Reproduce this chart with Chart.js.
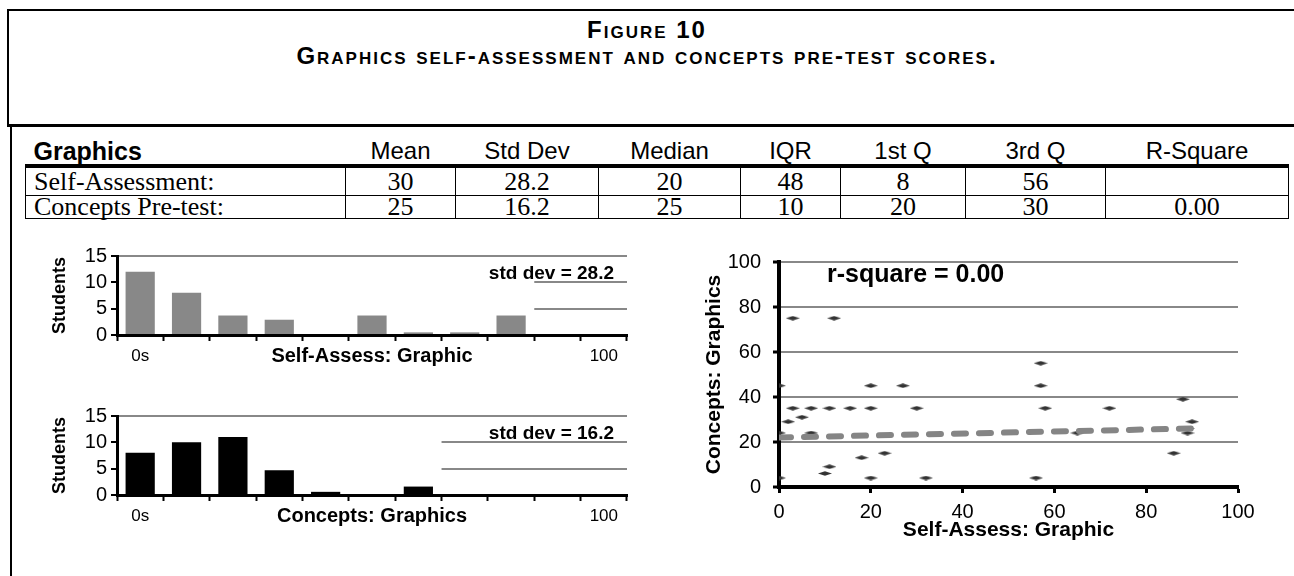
<!DOCTYPE html>
<html>
<head>
<meta charset="utf-8">
<script src="https://cdn.jsdelivr.net/npm/chart.js@4.4.0/dist/chart.umd.min.js"></script>
<style>
  body { margin: 0; width: 1294px; height: 576px; background: #fff; position: relative; overflow: hidden; font-family: "Liberation Sans", Arial, sans-serif; }
  #box { position: absolute; left: 7px; top: 9px; width: 1310px; height: 113px; border: 2px solid #000; border-bottom-width: 3px; border-right: none; }
  #leftline { position: absolute; left: 10px; top: 126px; width: 2px; height: 460px; background: #000; }
  .ttl { position: absolute; left: 0; width: 1294px; text-align: center; font-weight: bold; font-variant: small-caps; font-size: 24px; letter-spacing: 2px; line-height: 26px; }
  #stats { position: absolute; left: 25px; top: 138px; border-collapse: collapse; table-layout: fixed; width: 1263px; }
  #stats th { font: 24px "Liberation Sans", Arial, sans-serif; height: 26px; padding: 0; text-align: center; vertical-align: middle; line-height: 24px; }
  #stats th:first-child { text-align: left; font-weight: bold; font-size: 25px; padding-left: 8px; }
  #stats td { border: 1px solid #000; font: 26px "Liberation Serif", "Times New Roman", serif; padding: 0; text-align: center; line-height: 22px; height: 22px; }
  #stats tbody tr:first-child td { border-top: 4px solid #000; height: 27px; }
  #stats td:first-child { text-align: left; padding-left: 8px; }
  canvas { position: absolute; }
</style>
</head>
<body>
<div id="box"></div>
<div id="leftline"></div>
<div class="ttl" style="top:17px">Figure 10</div>
<div class="ttl" style="top:43px">Graphics self-assessment and concepts pre-test scores.</div>
<table id="stats">
  <colgroup>
    <col style="width:320px"><col style="width:110px"><col style="width:143px"><col style="width:142px">
    <col style="width:100px"><col style="width:125px"><col style="width:140px"><col style="width:183px">
  </colgroup>
  <thead><tr id="head"></tr></thead>
  <tbody id="rows"></tbody>
</table>
<canvas id="histSelf" width="600" height="137" style="left:40px;top:240px"></canvas>
<canvas id="histConcepts" width="600" height="137" style="left:40px;top:400px"></canvas>
<canvas id="scatter" width="600" height="320" style="left:680px;top:238px"></canvas>
<script>
// table
const statColumns = ['Mean', 'Std Dev', 'Median', 'IQR', '1st Q', '3rd Q', 'R-Square'];
const rowNames = ['Self-Assessment:', 'Concepts Pre-test:'];
const selfStats = ['30', '28.2', '20', '48', '8', '56', ''];
const conceptStats = ['25', '16.2', '25', '10', '20', '30', '0.00'];

// histograms: 10-point bins, first one labelled 0s, last one 100
const binLabels = ['0s', '', '', '', '', '', '', '', '', '', '100'];
const selfCounts = [12, 8, 3.7, 2.9, 0, 3.7, 0.5, 0.5, 3.7, 0, 0];
const conceptCounts = [8, 10, 11, 4.7, 0.6, 0, 1.6, 0, 0, 0, 0];
const countTicks = [0, 5, 10, 15];

// scatter: self-assessment vs concepts pre-test
const selfScores = [3, 12, 0, 20, 27, 3, 7, 11, 15.5, 20, 30, 5, 2, 0, 7, 57, 57, 58, 72, 88, 90, 89, 65, 89, 18, 23, 11, 10, 0, 20, 32, 56, 86];
const conceptScores = [75, 75, 45, 45, 45, 35, 35, 35, 35, 35, 35, 31, 29, 24, 24, 55, 45, 35, 35, 39, 29, 26, 24, 24, 13, 15, 9, 6, 4, 4, 4, 4, 15];
const trendX = [0, 90];
const trendY = [22, 26];
const scoreTicks = [0, 20, 40, 60, 80, 100];

const FONT = '"Liberation Sans", Arial, sans-serif';

function buildTable() {
    const head = document.getElementById('head');
    head.innerHTML = '<th>Graphics</th>' + statColumns.map(c => `<th>${c}</th>`).join('');
    const body = document.getElementById('rows');
    [selfStats, conceptStats].forEach((vals, i) => {
        const tr = document.createElement('tr');
        tr.innerHTML = `<td>${rowNames[i]}</td>` + vals.map(v => `<td>${v}</td>`).join('');
        body.appendChild(tr);
    });
}

// grid lines at 5 and 10 only show to the right of the last filled bin
const partialGrid = {
    id: 'partialGrid',
    beforeDatasetsDraw(chart) {
        const {ctx, chartArea, scales: {x, y}} = chart;
        const counts = chart.data.datasets[0].data;
        let last = 0;
        counts.forEach((v, i) => { if (v > 0) last = i; });
        const x0 = x.getPixelForValue(last) + x.width / counts.length / 2;
        ctx.save();
        ctx.strokeStyle = '#888';
        ctx.lineWidth = 2;
        countTicks.filter(v => v > 0 && v < 15).forEach(v => {
            const py = Math.round(y.getPixelForValue(v));
            ctx.beginPath();
            ctx.moveTo(x0, py);
            ctx.lineTo(chartArea.right, py);
            ctx.stroke();
        });
        ctx.restore();
    }
};

const note = {
    id: 'note',
    afterDraw(chart, args, opts) {
        const {ctx, chartArea} = chart;
        ctx.save();
        ctx.font = `bold ${opts.size}px ${FONT}`;
        ctx.fillStyle = '#000';
        ctx.textAlign = opts.align;
        ctx.textBaseline = 'middle';
        const px = opts.align === 'right' ? chartArea.right - opts.dx : chartArea.left + opts.dx;
        ctx.fillText(opts.text, px, chartArea.top + opts.dy);
        ctx.restore();
    }
};

function renderHist(id, counts, color, xTitle, noteText) {
    new Chart(document.getElementById(id), {
        type: 'bar',
        data: {
            labels: binLabels,
            datasets: [{data: counts, backgroundColor: color, barPercentage: 0.63, categoryPercentage: 1}]
        },
        options: {
            responsive: false,
            animation: false,
            layout: {padding: {top: 15, right: 13, left: 0, bottom: 0}},
            plugins: {
                legend: {display: false},
                tooltip: {enabled: false},
                note: {text: noteText, size: 19, align: 'right', dx: 13, dy: 18}
            },
            scales: {
                x: {
                    grid: {offset: true, drawOnChartArea: false, tickLength: 6, tickColor: '#000', tickWidth: 2},
                    border: {color: '#000', width: 3},
                    ticks: {color: '#000', font: {size: 17, family: FONT}, padding: 5, maxRotation: 0, autoSkip: false},
                    title: {display: true, text: xTitle, color: '#000', font: {size: 20, weight: 'bold', family: FONT}, padding: {top: 0, bottom: 9}},
                    afterFit: s => { s.height = 42; }
                },
                y: {
                    min: 0,
                    max: 15,
                    afterBuildTicks: s => { s.ticks = countTicks.map(v => ({value: v})); },
                    grid: {
                        color: c => (c.tick && c.tick.value === 15) ? '#888' : 'rgba(0,0,0,0)',
                        lineWidth: 2, tickLength: 6, tickColor: '#000', tickWidth: 2
                    },
                    border: {color: '#000', width: 3},
                    ticks: {color: '#000', font: {size: 20, family: FONT}, padding: 4, autoSkip: false},
                    title: {display: true, text: 'Students', color: '#000', font: {size: 18, weight: 'bold', family: FONT}, padding: {top: 9, bottom: 0}},
                    afterFit: s => { s.width = 77; }
                }
            }
        },
        plugins: [partialGrid, note]
    });
}

function renderScatter() {
    const mark = document.createElement('canvas');
    mark.width = 14;
    mark.height = 5;
    const m = mark.getContext('2d');
    m.fillStyle = '#333';
    m.beginPath();
    m.moveTo(0, 2.5); m.lineTo(7, 0.2); m.lineTo(14, 2.5); m.lineTo(7, 4.8);
    m.closePath();
    m.fill();

    new Chart(document.getElementById('scatter'), {
        type: 'scatter',
        data: {
            datasets: [
                {
                    type: 'line',
                    data: trendX.map((x, i) => ({x, y: trendY[i]})),
                    borderColor: '#858585',
                    borderWidth: 6,
                    borderDash: [12, 13],
                    borderCapStyle: 'round',
                    pointRadius: 0,
                    order: 0
                },
                {
                    data: selfScores.map((x, i) => ({x, y: conceptScores[i]})),
                    pointStyle: mark,
                    order: 1
                }
            ]
        },
        options: {
            responsive: false,
            animation: false,
            layout: {padding: {top: 15, right: 42, left: 0, bottom: 0}},
            plugins: {
                legend: {display: false},
                tooltip: {enabled: false},
                note: {text: 'r-square = 0.00', size: 25, align: 'left', dx: 48, dy: 13}
            },
            scales: {
                x: {
                    type: 'linear',
                    min: 0,
                    max: 100,
                    afterBuildTicks: s => { s.ticks = scoreTicks.map(v => ({value: v})); },
                    grid: {drawOnChartArea: false, tickLength: 6, tickColor: '#000', tickWidth: 3},
                    border: {color: '#000', width: 4},
                    ticks: {color: '#000', font: {size: 20, family: FONT}, padding: 7},
                    title: {display: true, text: 'Self-Assess: Graphic', color: '#000', font: {size: 21, weight: 'bold', family: FONT}, padding: {top: 0, bottom: 15}},
                    afterFit: s => { s.height = 71; }
                },
                y: {
                    min: 0,
                    max: 100,
                    afterBuildTicks: s => { s.ticks = scoreTicks.map(v => ({value: v})); },
                    grid: {
                        color: c => (c.tick && c.tick.value === 0) ? 'rgba(0,0,0,0)' : '#888',
                        lineWidth: 2, tickLength: 6, tickColor: '#000', tickWidth: 3
                    },
                    border: {color: '#000', width: 4},
                    ticks: {color: '#000', font: {size: 20, family: FONT}, padding: 12},
                    title: {display: true, text: 'Concepts: Graphics', color: '#000', font: {size: 21, weight: 'bold', family: FONT}, padding: {top: 22, bottom: 0}},
                    afterFit: s => { s.width = 99; }
                }
            }
        },
        plugins: [note]
    });
}

buildTable();
renderHist('histSelf', selfCounts, '#888888', 'Self-Assess: Graphic', 'std dev = 28.2');
renderHist('histConcepts', conceptCounts, '#000000', 'Concepts: Graphics', 'std dev = 16.2');
renderScatter();
</script>
</body>
</html>
